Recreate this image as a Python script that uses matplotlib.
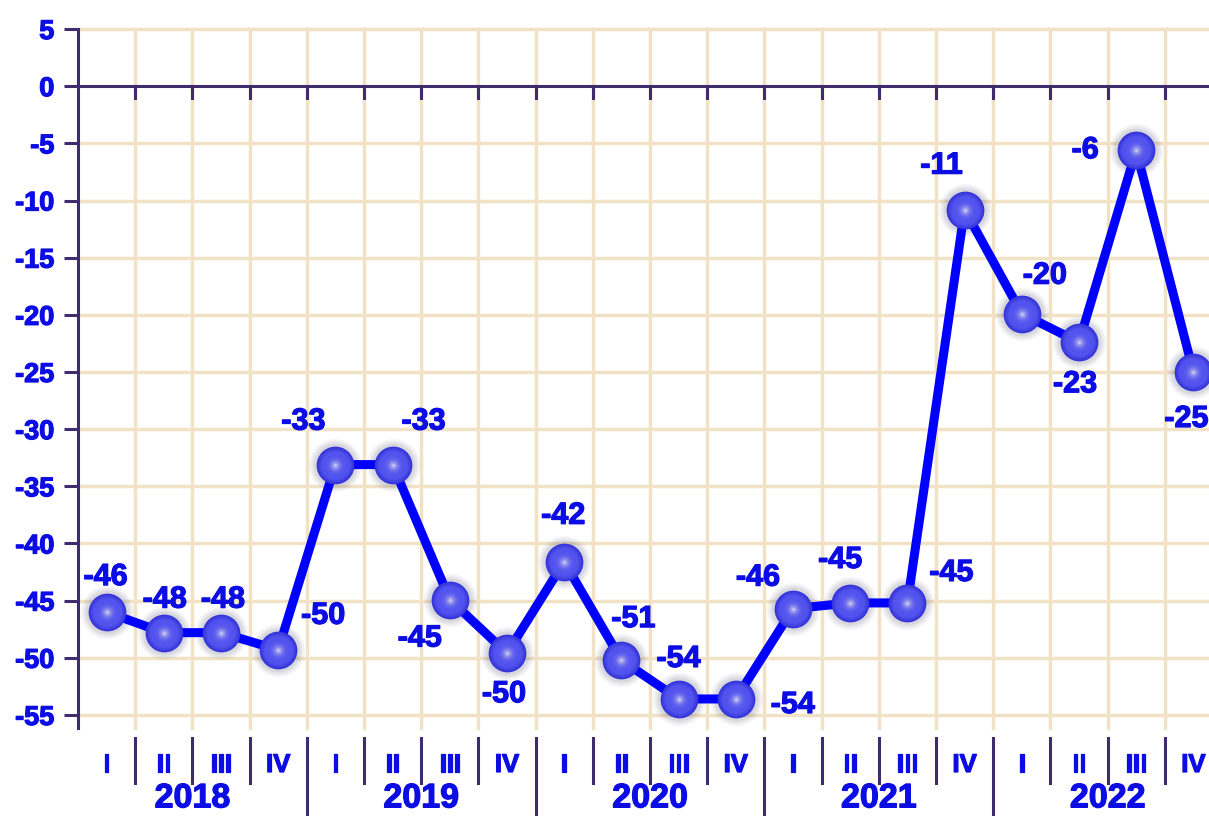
import numpy as np
import matplotlib
matplotlib.use("Agg")
import matplotlib.pyplot as plt
from matplotlib import transforms
from matplotlib import patheffects
from matplotlib.colors import to_rgb

# ---------------------------------------------------------------------------
# Data
# ---------------------------------------------------------------------------

years = ["2018", "2019", "2020", "2021", "2022"]
quarters = ["I", "II", "III", "IV"]

# plotted positions and the printed labels
values = [-46.0, -47.8, -47.8, -49.3, -33.1, -33.1, -44.9, -49.6, -41.6, -50.2,
          -53.6, -53.6, -45.7, -45.2, -45.2, -10.8, -19.9, -22.4, -5.6, -25.0]
value_labels = ["-46", "-48", "-48", "-50", "-33", "-33", "-45", "-50", "-42", "-51",
                "-54", "-54", "-46", "-45", "-45", "-11", "-20", "-23", "-6", "-25"]

yticks = list(range(5, -60, -5))

# label offsets in pixels (dx, dy up)
label_offsets = [(-1, 35), (1, 33), (2, 33), (45, 34), (-32, 43), (31, 43),
                 (-30, -39), (-3, -41), (-1, 46), (12, 41), (0, 40), (57, -6),
                 (-35, 31), (-10, 43), (44, 30), (-23, 44), (23, 38), (-4, -42),
                 (-51, 0), (-7, -47)]

BLUE = "#0c0ce4"
AXIS = "#3e2c6c"
GRID = "#f1e2c6"
FONT = "Liberation Sans"
HEAVY = [patheffects.withStroke(linewidth=0.9, foreground=BLUE)]

# ---------------------------------------------------------------------------
# Figure
# ---------------------------------------------------------------------------

W, H = 1209, 816
fig = plt.figure(figsize=(W / 100, H / 100), dpi=100)
ax = fig.add_axes([78 / W, 1 - 728 / H, 1 - 78 / W, (728 - 25.6) / H])

n = len(values)
x = np.arange(n) + 0.5
x_max = (W - 78) / 57.2
y_min = -56.14
ax.set_xlim(0, x_max)
ax.set_ylim(y_min, 5.3)

# grid
for gx in range(1, n):
    ax.plot([gx, gx], [y_min, 5], color=GRID, lw=2.5, zorder=1, clip_on=False)
for gy in yticks:
    if gy != 0:
        ax.axhline(gy, color=GRID, lw=2.5, zorder=1)

# zero line with small down ticks
ax.axhline(0, color=AXIS, lw=2.2, zorder=2)
for gx in range(1, n):
    ax.plot([gx, gx], [0, -1.05], color=AXIS, lw=2.2, zorder=2)

for s in ["top", "right", "bottom"]:
    ax.spines[s].set_visible(False)
ax.spines["left"].set_color(AXIS)
ax.spines["left"].set_linewidth(2.2)
ax.spines["left"].set_bounds(y_min, 5)
ax.spines["left"].set_zorder(3)

ax.set_yticks(yticks)
ax.set_yticklabels([str(t) for t in yticks])
ax.tick_params(axis="y", direction="out", length=10, width=2.2, color=AXIS,
               pad=7, labelcolor=BLUE, labelsize=19.5)
for lab in ax.get_yticklabels():
    lab.set_fontfamily(FONT)
    lab.set_fontweight("bold")
    lab.set_path_effects(HEAVY)
ax.set_xticks([])

# line
ax.plot(x, values, color="#0000ff", lw=6.5, zorder=4, solid_capstyle="round")

# soft shadow under the balls
for k, a in [(1.4, 0.06), (1.28, 0.08), (1.16, 0.10)]:
    ax.scatter(x, values, s=740 * k ** 2, color="#50506a", alpha=a,
               linewidths=0, zorder=3.5)

# shaded spheres: concentric discs from rim to highlight
rim = np.array(to_rgb("#3434d8"))
base = np.array(to_rgb("#5252ee"))
white = np.array([1.0, 1.0, 1.0])
for r in np.linspace(1.0, 0.05, 20):
    if r > 0.75:
        t = (1.0 - r) / 0.25
        c = rim * (1 - t) + base * t
    else:
        w = (1 - r / 0.75) ** 3.2
        c = base * (1 - w) + white * w * 0.92
    ax.scatter(x, values, s=740 * r ** 2, color=c, linewidths=0, zorder=5)

# value labels
for xi, yi, lab, (dx, dy) in zip(x, values, value_labels, label_offsets):
    ax.annotate(lab, (xi, yi), xytext=(dx, dy), textcoords="offset pixels",
                ha="center", va="center", color=BLUE, fontsize=22,
                fontweight="bold", fontfamily=FONT, zorder=6,
                annotation_clip=False, path_effects=HEAVY)

# category axis below the chart
trans = transforms.blended_transform_factory(ax.transData, fig.transFigure)
for i in range(n):
    ax.text(i + 0.5, 1 - 772 / H, quarters[i % 4], transform=trans,
            ha="center", va="baseline", color=BLUE, fontsize=18.5,
            fontweight="bold", fontfamily=FONT, clip_on=False,
            path_effects=HEAVY)
for gx in range(1, n):
    y_low = 0.0 if gx % 4 == 0 else 1 - 783 / H
    ax.plot([gx, gx], [1 - 738 / H, y_low], transform=trans, color=AXIS,
            lw=2.2, clip_on=False)
for j, yr in enumerate(years):
    ax.text(4 * j + 2, 0.002, yr, transform=trans, ha="center", va="bottom",
            color=BLUE, fontsize=24.5, fontweight="bold", fontfamily=FONT,
            clip_on=False, path_effects=HEAVY)

fig.savefig("out.png", dpi=100)
